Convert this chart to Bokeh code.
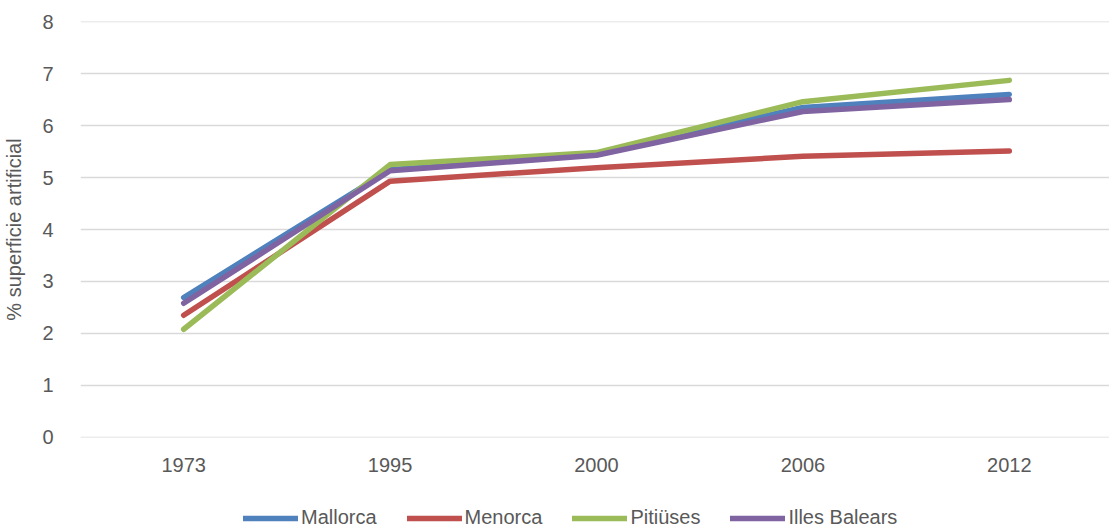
from bokeh.plotting import figure
from bokeh.models import Legend, LegendItem, FactorRange
from bokeh.layouts import column
from bokeh.embed import file_html
from bokeh.resources import INLINE

years = ["1973", "1995", "2000", "2006", "2012"]
mallorca = [2.69, 5.15, 5.46, 6.35, 6.60]
menorca = [2.35, 4.93, 5.19, 5.41, 5.51]
pitiuses = [2.08, 5.25, 5.48, 6.46, 6.87]
illes_balears = [2.58, 5.13, 5.43, 6.27, 6.50]
series_names = ["Mallorca", "Menorca", "Pitiüses", "Illes Balears"]
y_label = "% superficie artificial"

FONT = "Liberation Sans"
TXT = "#595959"
colors = ["#4F81BD", "#C0504D", "#9BBB59", "#8064A2"]
series = [mallorca, menorca, pitiuses, illes_balears]

p = figure(frame_width=1032, frame_height=416, x_range=FactorRange(*years), y_range=(-0.003, 8.003),
           output_backend="svg", toolbar_location=None,
           min_border_left=77, min_border_right=0, min_border_top=21, min_border_bottom=50)
p.outline_line_color = None

for name, vals, c in zip(series_names, series, colors):
    p.line(years, vals, line_color=c, line_width=5.5, line_cap="round", line_join="round")

p.xgrid.grid_line_color = None
p.ygrid.grid_line_color = "#d9d9d9"
p.ygrid.grid_line_width = 1.5

p.yaxis.ticker = list(range(0, 9))
for ax in [p.xaxis[0], p.yaxis[0]]:
    ax.axis_line_color = None
    ax.major_tick_line_color = None
    ax.minor_tick_line_color = None
    ax.major_tick_out = 0
    ax.major_tick_in = 0
    ax.major_label_text_font = FONT
    ax.major_label_text_font_size = "20px"
    ax.major_label_text_color = TXT
p.yaxis.major_label_standoff = 27
p.xaxis.major_label_standoff = 20
p.yaxis.axis_label = y_label
p.yaxis.axis_label_text_font = FONT
p.yaxis.axis_label_text_font_size = "20px"
p.yaxis.axis_label_text_font_style = "normal"
p.yaxis.axis_label_text_color = TXT
p.yaxis.axis_label_standoff = 14

# legend strip below the chart (its series lines lie outside its visible range)
lg = figure(width=1109, height=43, x_range=FactorRange(*years), y_range=(0, 1),
            x_axis_type=None, y_axis_type=None, output_backend="svg", toolbar_location=None,
            min_border=0, min_border_left=0, min_border_right=0, min_border_top=0, min_border_bottom=0)
lg.outline_line_color = None
lg.grid.grid_line_color = None
items = []
for name, vals, c in zip(series_names, series, colors):
    r = lg.line(years, vals, line_color=c, line_width=5.5, line_cap="round")
    items.append(LegendItem(label=name, renderers=[r]))
legend = Legend(items=items, orientation="horizontal", location=(163, 1),
                glyph_width=55, glyph_height=20, label_standoff=3, spacing=30,
                label_text_font=FONT, label_text_font_size="20px", label_text_color=TXT,
                border_line_color=None, background_fill_alpha=0, padding=0, margin=0)
lg.add_layout(legend, "center")

layout = column(p, lg, spacing=0)
open("out.html", "w").write(file_html(layout, INLINE))
